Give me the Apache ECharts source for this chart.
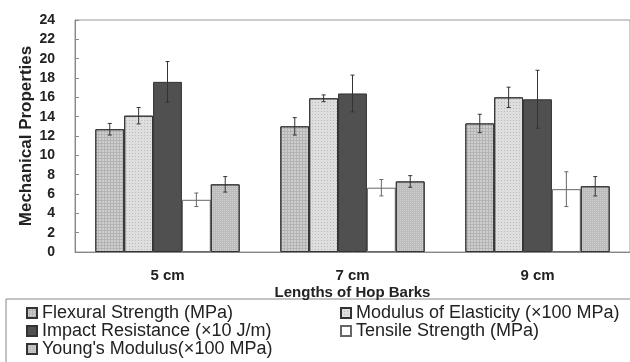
<!DOCTYPE html>
<html>
<head>
<meta charset="utf-8">
<script src="https://cdn.jsdelivr.net/npm/echarts@6/dist/echarts.min.js"></script>
<style>html,body{margin:0;padding:0;background:#fff}#c{width:630px;height:362px}</style>
</head>
<body>
<div id="c"></div>
<script>
const categories = ['5 cm', '7 cm', '9 cm'];
const seriesNames = ['Flexural Strength (MPa)', 'Modulus of Elasticity (×100 MPa)', 'Impact Resistance (×10 J/m)', 'Tensile Strength (MPa)', "Young's Modulus(×100 MPa)"];
const flexural = [12.7, 13.0, 13.3];
const flexuralErr = [0.6, 0.9, 0.95];
const modulus = [14.1, 15.9, 16.0];
const modulusErr = [0.85, 0.35, 1.05];
const impact = [17.6, 16.4, 15.8];
const impactErr = [2.1, 1.9, 3.0];
const tensile = [5.4, 6.65, 6.5];
const tensileErr = [0.7, 0.85, 1.8];
const youngs = [7.0, 7.3, 6.8];
const youngsErr = [0.8, 0.6, 1.0];
const yTicks = [0, 2, 4, 6, 8, 10, 12, 14, 16, 18, 20, 22, 24];

const values = [flexural, modulus, impact, tensile, youngs];
const errs = [flexuralErr, modulusErr, impactErr, tensileErr, youngsErr];
const colors = ['#b4b4b4', '#dedede', '#505050', '#ffffff', '#bcbcbc'];
const decals = [
  {symbol: 'rect', symbolSize: 1, dashArrayX: [2, 1], dashArrayY: [2, 1], color: 'rgba(255,255,255,0.35)'},
  {symbol: 'rect', symbolSize: 1, dashArrayX: [1, 2], dashArrayY: [1, 2], color: 'rgba(120,120,120,0.35)'},
  null,
  null,
  {symbol: 'rect', symbolSize: 1, dashArrayX: [1, 1], dashArrayY: [1, 1], color: 'rgba(255,255,255,0.3)'}
];
const CAT_GAP = 0.22;

const chart = echarts.init(document.getElementById('c'), null, {renderer: 'canvas'});

const series = [];
seriesNames.forEach((name, i) => {
  const st = {color: colors[i], borderColor: i === 3 ? '#666' : '#333', borderWidth: 1};
  if (decals[i]) st.decal = decals[i];
  series.push({
    name: name, type: 'bar', data: values[i], barGap: '0%', barCategoryGap: (CAT_GAP * 100) + '%',
    itemStyle: st, emphasis: {disabled: true}
  });
});
seriesNames.forEach((name, i) => {
  series.push({
    type: 'custom', name: name + ' err', silent: true, z: 5,
    data: values[i].map((v, k) => [k, v - errs[i][k], v + errs[i][k]]),
    renderItem: function (params, api) {
      const cat = api.value(0);
      const lo = api.coord([cat, api.value(1)]);
      const hi = api.coord([cat, api.value(2)]);
      const cw = api.size([1, 0])[0];
      const bw = cw * (1 - CAT_GAP) / 5;
      const x = lo[0] + (i - 2) * bw;
      const cap = 2;
      const stroke = i === 3 ? '#666' : '#333';
      return {
        type: 'group',
        children: [
          {type: 'line', shape: {x1: x, y1: lo[1], x2: x, y2: hi[1]}, style: {stroke: stroke, lineWidth: 1}},
          {type: 'line', shape: {x1: x - cap, y1: lo[1], x2: x + cap, y2: lo[1]}, style: {stroke: stroke, lineWidth: 1}},
          {type: 'line', shape: {x1: x - cap, y1: hi[1], x2: x + cap, y2: hi[1]}, style: {stroke: stroke, lineWidth: 1}}
        ]
      };
    }
  });
});

const legendText = {fontSize: 18, color: '#222', fontFamily: 'Liberation Sans', lineHeight: 17};

chart.setOption({
  animation: false,
  backgroundColor: '#fff',
  grid: {left: 75, top: 20, right: -4, bottom: 110, show: true, borderColor: '#999', borderWidth: 1},
  xAxis: {
    type: 'category', data: categories,
    axisLine: {lineStyle: {color: '#888'}},
    axisTick: {inside: true, length: 3, lineStyle: {color: '#888'}},
    axisLabel: {margin: 16, fontWeight: 'bold', fontSize: 15, color: '#222', fontFamily: 'Liberation Sans'},
    name: 'Lengths of Hop Barks', nameLocation: 'middle', nameGap: 33, nameMoveOverlap: false,
    nameTextStyle: {fontWeight: 'bold', fontSize: 15, color: '#222', fontFamily: 'Liberation Sans'}
  },
  yAxis: {
    type: 'value', min: 0, max: 24, interval: 2,
    axisLine: {show: true, lineStyle: {color: '#888'}},
    axisTick: {show: true, inside: true, length: 4, lineStyle: {color: '#888'}},
    splitLine: {show: false},
    axisLabel: {fontWeight: 'bold', fontSize: 14, color: '#222', fontFamily: 'Liberation Sans', margin: 20,
      formatter: function (v) { return yTicks.indexOf(v) >= 0 ? String(v) : ''; }},
    name: 'Mechanical Properties', nameLocation: 'middle', nameGap: 40, nameMoveOverlap: false,
    nameTextStyle: {fontWeight: 'bold', fontSize: 17, color: '#222', fontFamily: 'Liberation Sans'}
  },
  legend: [
    {data: [seriesNames[0], seriesNames[2], seriesNames[4]], orient: 'vertical', left: 26, top: 304, padding: 0, height: 60, itemWidth: 10, itemHeight: 10, itemGap: 0, icon: 'rect', textStyle: legendText, selectedMode: false},
    {data: [seriesNames[1], seriesNames[3]], orient: 'vertical', left: 340, top: 304, padding: 0, height: 60, itemWidth: 10, itemHeight: 10, itemGap: 0, icon: 'rect', textStyle: legendText, selectedMode: false}
  ],
  graphic: [
    {type: 'rect', shape: {x: 6, y: 299, width: 640, height: 80}, style: {fill: 'none', stroke: '#888', lineWidth: 1}, silent: true}
  ],
  series: series
});
</script>
</body>
</html>
